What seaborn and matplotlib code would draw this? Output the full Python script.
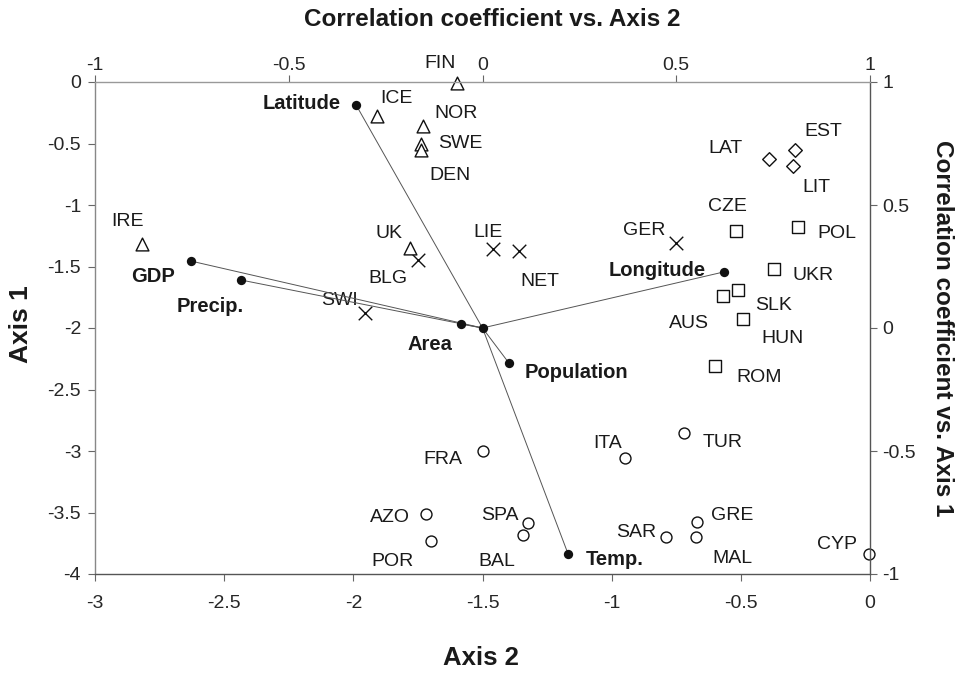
import numpy as np
import pandas as pd
import matplotlib
matplotlib.use('Agg')
import matplotlib.pyplot as plt
import seaborn as sns

# ---- country scores on the two axes ----
countries = ['FIN', 'ICE', 'NOR', 'SWE', 'DEN', 'IRE', 'UK',
             'BLG', 'SWI', 'LIE', 'NET', 'GER',
             'LAT', 'EST', 'LIT',
             'CZE', 'POL', 'UKR', 'SLK', 'AUS', 'HUN', 'ROM',
             'FRA', 'AZO', 'POR', 'SPA', 'BAL', 'ITA', 'TUR',
             'SAR', 'GRE', 'MAL', 'CYP']
axis2 = [-1.60, -1.91, -1.73, -1.74, -1.74, -2.82, -1.78,
         -1.75, -1.955, -1.46, -1.36, -0.75,
         -0.39, -0.29, -0.30,
         -0.52, -0.28, -0.37, -0.51, -0.57, -0.49, -0.60,
         -1.50, -1.72, -1.70, -1.325, -1.345, -0.95, -0.72,
         -0.79, -0.67, -0.675, -0.005]
axis1 = [-0.01, -0.28, -0.36, -0.50, -0.55, -1.32, -1.35,
         -1.45, -1.88, -1.36, -1.37, -1.31,
         -0.63, -0.55, -0.68,
         -1.21, -1.18, -1.52, -1.69, -1.74, -1.93, -2.31,
         -3.00, -3.51, -3.73, -3.585, -3.68, -3.06, -2.85,
         -3.70, -3.58, -3.70, -3.84]
groups = ['north'] * 7 + ['central'] * 5 + ['baltic'] * 3 + \
         ['east'] * 7 + ['south'] * 11

# ---- environmental variables: correlation with the axes ----
variables  = ['Latitude', 'GDP', 'Precip.', 'Area',
              'Longitude', 'Population', 'Temp.']
corr_axis2 = [-0.326, -0.752, -0.623, -0.055, 0.623, 0.068, 0.221]
corr_axis1 = [0.906, 0.272, 0.195, 0.016, 0.228, -0.142, -0.919]

# label offsets from the marker, in pixels (dx right, dy down)
country_offset = {
    'FIN': (-17, -20), 'ICE': (20, -18), 'NOR': (33, -13), 'SWE': (40, 0),
    'DEN': (29, 26), 'IRE': (-14, -23), 'UK': (-21, -15), 'BLG': (-30, 18),
    'SWI': (-25, -13), 'LIE': (-5, -17), 'NET': (21, 31), 'GER': (-32, -13),
    'LAT': (-44, -11), 'EST': (28, -18), 'LIT': (24, 22), 'CZE': (-8, -24),
    'POL': (39, 6), 'UKR': (39, 7), 'SLK': (35, 16), 'AUS': (-34, 27),
    'HUN': (39, 19), 'ROM': (44, 11), 'FRA': (-40, 8), 'AZO': (-36, 4),
    'POR': (-38, 21), 'SPA': (-28, -7), 'BAL': (-26, 27), 'ITA': (-17, -15),
    'TUR': (39, 10), 'SAR': (-30, -5), 'GRE': (35, -7), 'MAL': (37, 21),
    'CYP': (-32, -10),
}
variable_offset = {
    'Latitude': (-54, -2), 'GDP': (-38, 15), 'Precip.': (-31, 26),
    'Area': (-31, 20), 'Longitude': (-67, -1), 'Population': (68, 10),
    'Temp.': (47, 5),
}

markers = {'north': '^', 'central': 'X', 'baltic': 'D', 'east': 's', 'south': 'o'}
sizes   = {'north': 85, 'central': 95, 'baltic': 48, 'east': 78, 'south': 62}

df = pd.DataFrame({'country': countries, 'axis2': axis2,
                   'axis1': axis1, 'group': groups})
var_df = pd.DataFrame({'variable': variables, 'cx': corr_axis2, 'cy': corr_axis1})

sns.set_style('white')
plt.rcParams['font.family'] = ['Liberation Sans', 'DejaVu Sans']
plt.rcParams['text.color'] = '#1a1a1a'

fig = plt.figure(figsize=(9.59, 6.73), dpi=100)
pos = [95 / 959, 1 - 574 / 673, 775 / 959, 492 / 673]
ax = fig.add_axes(pos)

for g, sub in df.groupby('group'):
    if g == 'central':
        sns.scatterplot(data=sub, x='axis2', y='axis1', marker='x',
                        s=sizes[g], color='#111111', linewidth=1.0, ax=ax,
                        legend=False, zorder=3, clip_on=False)
    else:
        sns.scatterplot(data=sub, x='axis2', y='axis1', marker=markers[g],
                        s=sizes[g], color='white', edgecolor='#111111',
                        linewidth=1.0, ax=ax, legend=False, zorder=3,
                        clip_on=False)

for _, r in df.iterrows():
    dx, dy = country_offset[r['country']]
    ax.annotate(r['country'], (r['axis2'], r['axis1']),
                xytext=(dx * 0.72, -dy * 0.72), textcoords='offset points',
                ha='center', va='center', fontsize=14)

ax.set_xlim(-3, 0)
ax.set_ylim(-4, 0)
ax.set_xticks(np.arange(-3, 0.01, 0.5))
ax.set_yticks(np.arange(-4, 0.01, 0.5))
ax.set_xticklabels([f'{v:g}' for v in np.arange(-3, 0.01, 0.5)])
ax.set_yticklabels([f'{v:g}' for v in np.arange(-4, 0.01, 0.5)])
ax.set_xlabel('')
ax.set_ylabel('')
ax.tick_params(axis='x', direction='out', length=5, width=0.8,
               color='#666666', labelsize=14, pad=10, bottom=True)
ax.tick_params(axis='y', direction='out', length=5, width=0.8,
               color='#666666', labelsize=14, pad=5, left=True)
for side in ['top', 'right']:
    ax.spines[side].set_visible(False)
ax.spines['left'].set_color('#888888')
ax.spines['bottom'].set_color('#555555')
for side in ['left', 'bottom']:
    ax.spines[side].set_linewidth(1.0)

# correlation axes (top / right) for the variable vectors
ax2 = fig.add_axes(pos, facecolor='none')
for _, r in var_df.iterrows():
    ax2.plot([0, r['cx']], [0, r['cy']], color='#555555', lw=0.7, zorder=2)
sns.scatterplot(data=var_df, x='cx', y='cy', color='#111111', s=45,
                linewidth=0, ax=ax2, legend=False, zorder=4)
ax2.scatter([0], [0], color='#111111', s=45, linewidth=0, zorder=4)
for _, r in var_df.iterrows():
    dx, dy = variable_offset[r['variable']]
    ax2.annotate(r['variable'], (r['cx'], r['cy']),
                 xytext=(dx * 0.72, -dy * 0.72), textcoords='offset points',
                 ha='center', va='center', fontsize=14.5, fontweight='bold')

ax2.set_xlim(-1, 1)
ax2.set_ylim(-1, 1)
ax2.set_xlabel('')
ax2.set_ylabel('')
ax2.xaxis.tick_top()
ax2.yaxis.tick_right()
ticks_c = [-1, -0.5, 0, 0.5, 1]
ax2.set_xticks(ticks_c)
ax2.set_yticks(ticks_c)
ax2.set_xticklabels([f'{v:g}' for v in ticks_c])
ax2.set_yticklabels([f'{v:g}' for v in ticks_c])
ax2.tick_params(axis='x', direction='out', length=5, width=0.8,
                color='#666666', labelsize=14, pad=1)
ax2.tick_params(axis='y', direction='out', length=5, width=0.8,
                color='#666666', labelsize=14, pad=4)
for side in ['left', 'bottom']:
    ax2.spines[side].set_visible(False)
ax2.spines['top'].set_color('#999999')
ax2.spines['right'].set_color('#555555')
ax2.spines['top'].set_linewidth(1.0)
ax2.spines['right'].set_linewidth(1.0)

fig.text(481 / 959, 1 - 658 / 673, 'Axis 2', ha='center', va='center',
         fontsize=18.5, fontweight='bold')
fig.text(21 / 959, 1 - 324 / 673, 'Axis 1', ha='center', va='center',
         rotation=90, fontsize=19, fontweight='bold')
fig.text(492 / 959, 1 - 19 / 673, 'Correlation coefficient vs. Axis 2',
         ha='center', va='center', fontsize=17.5, fontweight='bold')
fig.text(943 / 959, 1 - 328 / 673, 'Correlation coefficient vs. Axis 1',
         ha='center', va='center', rotation=270, fontsize=17.5,
         fontweight='bold')

fig.savefig('out.png', dpi=100)
plt.close(fig)
